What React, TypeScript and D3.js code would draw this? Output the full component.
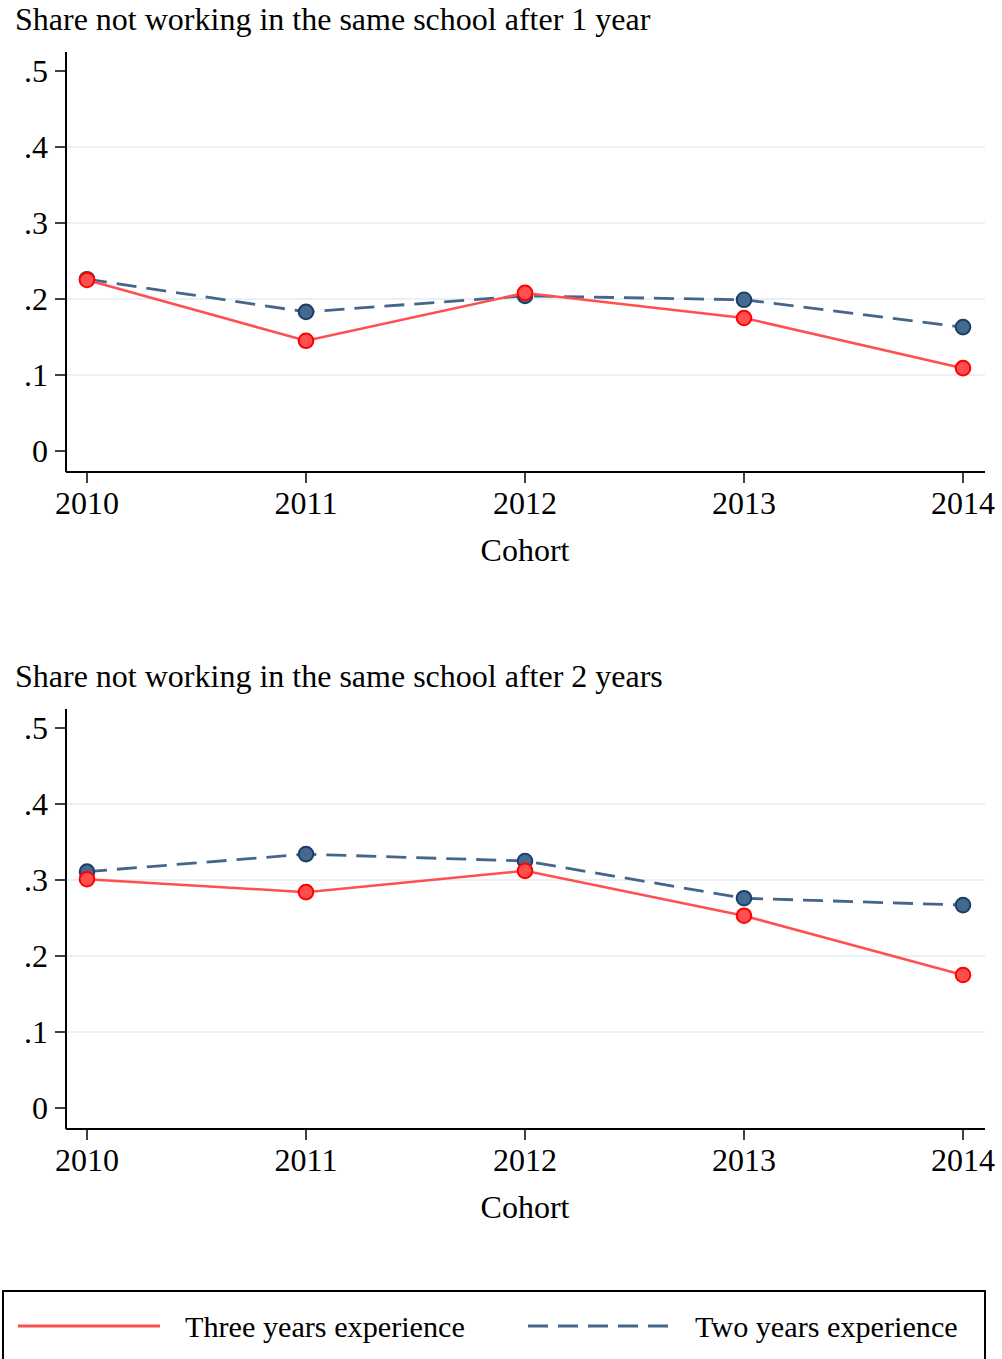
import React from 'react';
import * as d3 from 'd3';

const cohorts = [2010, 2011, 2012, 2013, 2014];
const yTicks = [0, 0.1, 0.2, 0.3, 0.4, 0.5];
const yTickLabels = ['0', '.1', '.2', '.3', '.4', '.5'];

const titles = [
  'Share not working in the same school after 1 year',
  'Share not working in the same school after 2 years',
];

// panel 1: after 1 year
const threeYears1 = [0.225, 0.145, 0.208, 0.175, 0.109];
const twoYears1 = [0.226, 0.183, 0.204, 0.199, 0.163];
// panel 2: after 2 years
const threeYears2 = [0.301, 0.284, 0.312, 0.253, 0.175];
const twoYears2 = [0.311, 0.334, 0.325, 0.276, 0.267];

const legendLabels = ['Three years experience', 'Two years experience'];

const RED = '#ff4f4f';
const RED_STROKE = '#ff0000';
const BLUE = '#45668a';
const BLUE_FILL = '#46698f';
const BLUE_STROKE = '#1b3f66';
const GRID = '#eaf0f3';
const FONT = '"Liberation Serif", "Times New Roman", serif';

const x = d3.scaleLinear().domain([2010, 2014]).range([87, 963]);

const Panel = ({ top, title, red, blue }: { top: number; title: string; red: number[]; blue: number[] }) => {
  // y=0 at top+451, 0.5 at top+71
  const y = d3.scaleLinear().domain([0, 0.5]).range([top + 451, top + 71]);
  const axisLeft = 66;
  const axisRight = 985;
  const axisBottom = top + 472;
  const axisTop = top + 52;
  const line = d3
    .line<number>()
    .x((_, i) => x(cohorts[i]))
    .y((d) => y(d));

  return (
    <g>
      <text x={15} y={top + 30} fontSize={32} fontFamily={FONT}>
        {title}
      </text>
      {/* grid */}
      {yTicks.slice(1, 5).map((t) => (
        <line key={t} x1={axisLeft} x2={axisRight} y1={y(t)} y2={y(t)} stroke={GRID} strokeWidth={2} />
      ))}
      {/* y axis */}
      <line x1={axisLeft} x2={axisLeft} y1={axisTop} y2={axisBottom} stroke="#000" strokeWidth={2} />
      {yTicks.map((t, i) => (
        <g key={t}>
          <line x1={axisLeft - 11} x2={axisLeft} y1={y(t)} y2={y(t)} stroke="#000" strokeWidth={1.5} />
          <text
            x={axisLeft - 18}
            y={y(t) + 11}
            textAnchor="end"
            fontSize={32}
            fontFamily={FONT}
          >
            {yTickLabels[i]}
          </text>
        </g>
      ))}
      {/* x axis */}
      <line x1={axisLeft} x2={axisRight} y1={axisBottom} y2={axisBottom} stroke="#000" strokeWidth={2} />
      {cohorts.map((c) => (
        <g key={c}>
          <line x1={x(c)} x2={x(c)} y1={axisBottom} y2={axisBottom + 11} stroke="#000" strokeWidth={1.5} />
          <text x={x(c)} y={axisBottom + 42} textAnchor="middle" fontSize={32} fontFamily={FONT}>
            {c}
          </text>
        </g>
      ))}
      <text x={525} y={axisBottom + 89} textAnchor="middle" fontSize={32} fontFamily={FONT}>
        Cohort
      </text>
      {/* series */}
      <path d={line(blue) || ''} fill="none" stroke={BLUE} strokeWidth={2.8} strokeDasharray="20,10" />
      {blue.map((v, i) => (
        <circle key={'b' + i} cx={x(cohorts[i])} cy={y(v)} r={7.3} fill={BLUE_FILL} stroke={BLUE_STROKE} strokeWidth={2} />
      ))}
      <path d={line(red) || ''} fill="none" stroke={RED} strokeWidth={2.5} />
      {red.map((v, i) => (
        <circle key={'r' + i} cx={x(cohorts[i])} cy={y(v)} r={7.3} fill={RED} stroke={RED_STROKE} strokeWidth={2} />
      ))}
    </g>
  );
};

export default function App() {
  return (
    <svg
      width={1002}
      height={1359}
      style={{ position: 'absolute', left: 0, top: 0, background: '#fff' }}
    >
      <rect width={1002} height={1359} fill="#fff" />
      <Panel top={0} title={titles[0]} red={threeYears1} blue={twoYears1} />
      <Panel top={657} title={titles[1]} red={threeYears2} blue={twoYears2} />
      {/* legend */}
      <rect x={3} y={1291} width={982} height={80} fill="none" stroke="#000" strokeWidth={2} />
      <line x1={18} x2={160} y1={1326} y2={1326} stroke={RED} strokeWidth={2.8} />
      <text x={185} y={1337} fontSize={30.2} fontFamily={FONT}>
        {legendLabels[0]}
      </text>
      <line x1={528} x2={670} y1={1326} y2={1326} stroke={BLUE} strokeWidth={2.8} strokeDasharray="20,10" />
      <text x={695} y={1337} fontSize={30.2} fontFamily={FONT}>
        {legendLabels[1]}
      </text>
    </svg>
  );
}
